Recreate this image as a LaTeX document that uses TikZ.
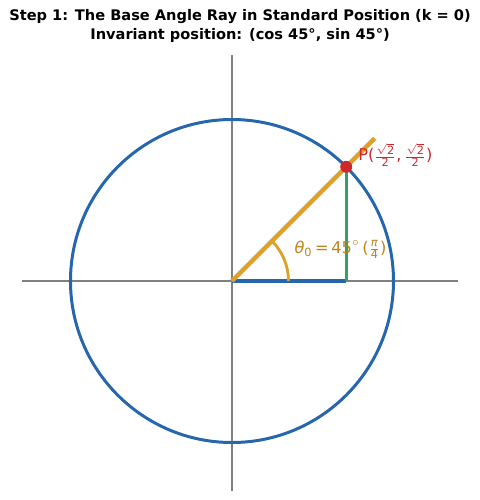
\documentclass[tikz,border=0pt]{standalone}
\usepackage{amsmath}
\usepackage{fontspec}
\setmainfont{DejaVu Sans}
\usepackage{tikz}
\usetikzlibrary{
  positioning,  % Function "of"
  calc,         % Calculations $...$
}
\definecolor{circblue}{RGB}{38,102,173}
\definecolor{raygold}{RGB}{222,160,40}
\definecolor{labgold}{RGB}{190,130,30}
\definecolor{sinegreen}{RGB}{56,158,104}
\definecolor{ptred}{RGB}{205,40,45}
\newcommand{\labsize}{\fontsize{9.2}{11}\selectfont}
\newcommand{\titsize}{\fontsize{8.3}{10}\selectfont}
\newcommand{\tx}[1]{\text{#1}}
\tikzset{
  x=3.23cm,
  y=3.23cm,
  axis line/.style={
    draw=gray,
    line width=0.6pt
  },
  unit circle/.style={
    draw=circblue,
    line width=1.7pt
  },
  ray line/.style={
    draw=raygold,
    line width=2.6pt
  },
  cos line/.style={
    draw=circblue,
    line width=1.9pt
  },
  sin line/.style={
    draw=sinegreen,
    line width=1.7pt
  },
  angle arc/.style={
    draw=raygold,
    line width=1.6pt
  },
  title text/.style={
    font=\titsize\bfseries,
    align=center,
    inner sep=0pt
  },
  lab text/.style={
    anchor=west,
    font=\labsize,
    inner sep=0pt
  }
}
\begin{document}
\begin{tikzpicture}
\useasboundingbox (-1.4365,-1.356) rectangle (1.5356,1.74);
% Title
\node[title text] (title1) at (0.05,1.635) {Step 1: The Base Angle Ray in Standard Position (k = 0)};
\node[title text] (title2) at (0.05,1.523) {Invariant position: (cos 45°, sin 45°)};
% Axes
\coordinate (O) at (0,0);
\coordinate (xl) at (-1.3,0);
\coordinate (xr) at (1.4,0);
\coordinate (yb) at (0,-1.3);
\coordinate (yt) at (0,1.4);
\draw[axis line] (xl) -- (xr);
\draw[axis line] (yb) -- (yt);
% Unit circle
\draw[unit circle] (O) circle (1);
% Projections
\coordinate (P) at (45:1);
\coordinate (Px) at ({cos(45)},0);
\draw[cos line] (O) -- (Px);
\draw[sin line] (Px) -- (P);
% Ray and angle
\coordinate (rayend) at (45:1.25);
\draw[ray line] (O) -- (rayend);
\draw[angle arc] (0.35,0) arc (0:45:0.35);
\node[lab text,text=labgold] (theta) at (0.385,0.195)
  {$\tx{\itshape θ}_{\tx{0}}\,\tx{=}\,\tx{45}^{\circ}\,\tx{(}\frac{\tx{\itshape π}}{\tx{4}}\tx{)}$};
% Point P
\fill[ptred] (P) circle (0.037);
\node[lab text,text=ptred] (plab) at (0.78,0.78)
  {P$\tx{(}\frac{\sqrt{\tx{2}}}{\tx{2}}\tx{,}\,\frac{\sqrt{\tx{2}}}{\tx{2}}\tx{)}$};
\end{tikzpicture}
\end{document}
